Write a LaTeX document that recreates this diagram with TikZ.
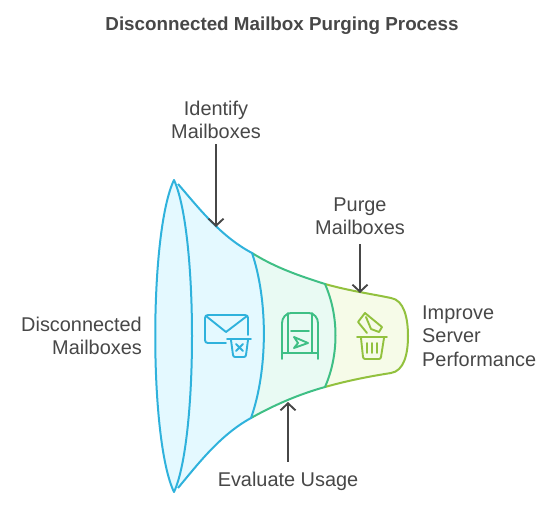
\documentclass[tikz,border=0pt]{standalone}
\usepackage{fontspec}
\setmainfont{Liberation Sans}
\definecolor{cblue}{HTML}{2FB2DC}
\definecolor{cgreen}{HTML}{3FBF85}
\definecolor{colive}{HTML}{92C13E}
\definecolor{fblue}{HTML}{E4F9FF}
\definecolor{fgreen}{HTML}{E9FAF3}
\definecolor{folive}{HTML}{F6FBE8}
\definecolor{ink}{HTML}{474747}
\tikzset{
  seg/.style={line width=2pt,line join=round},
  icon/.style={line width=1.9pt,line join=round,line cap=round},
  lbl/.style={font=\fontsize{19.9}{23.5}\selectfont,text=ink,inner sep=0pt},
  pointer/.style={line width=1.9pt,draw=ink,-{Straight Barb[length=7pt,width=15pt,line width=1.9pt]}}
}
\usetikzlibrary{arrows.meta}
\begin{document}
\begin{tikzpicture}[x=1pt,y=-1pt]
\useasboundingbox (0,0) rectangle (552,506);
% fills
\fill[folive] (325,284) .. controls (350,291) and (372,294) .. (391,298)
  .. controls (404,300) and (408,318) .. (408,336)
  .. controls (408,354) and (404,371) .. (391,373)
  .. controls (372,376) and (350,380) .. (325,387)
  .. controls (339,355) and (339,316) .. (325,284) -- cycle;
\fill[fgreen] (252,253) .. controls (276,268) and (300,276) .. (325,284)
  .. controls (339,316) and (339,355) .. (325,387)
  .. controls (300,394) and (276,404) .. (251,418)
  .. controls (268,370) and (268,300) .. (252,253) -- cycle;
\fill[fblue] (174,180) .. controls (195,205) and (220,236) .. (252,253)
  .. controls (268,300) and (268,370) .. (251,418)
  .. controls (220,435) and (195,467) .. (174,492)
  .. controls (149,440) and (149,232) .. (174,180) -- cycle;
% outlines
\draw[seg,colive] (325,284) .. controls (350,291) and (372,294) .. (391,298)
  .. controls (404,300) and (408,318) .. (408,336)
  .. controls (408,354) and (404,371) .. (391,373)
  .. controls (372,376) and (350,380) .. (325,387);
\draw[seg,cgreen] (252,253) .. controls (276,268) and (300,276) .. (325,284)
  .. controls (339,316) and (339,355) .. (325,387)
  .. controls (300,394) and (276,404) .. (251,418);
\draw[seg,cblue] (178,184) .. controls (198,207) and (220,236) .. (252,253)
  .. controls (268,300) and (268,370) .. (251,418)
  .. controls (220,435) and (198,464) .. (178,488);
\draw[seg,cblue] (174,180) .. controls (149,232) and (149,440) .. (174,492)
  .. controls (198,440) and (198,232) .. (174,180) -- cycle;
% mail icon
\draw[icon,cblue] (226,343) -- (208,343) .. controls (206,343) and (205,342) .. (205,340)
  -- (205,318) .. controls (205,316) and (206,315) .. (208,315) -- (245,315)
  .. controls (247,315) and (248,316) .. (248,318) -- (248,335);
\draw[icon,cblue] (206,316) -- (226,332) -- (247,316);
\draw[icon,cblue] (227,339) -- (251,339);
\draw[icon,cblue] (231,340) -- (233,355) .. controls (233,356) and (234,357) .. (235,357)
  -- (244,357) .. controls (245,357) and (246,356) .. (246,355) -- (248,340);
\draw[icon,cblue] (236,344) -- (243,351) (243,344) -- (236,351);
% mailbox icon
\draw[icon,cgreen] (282,359) -- (282,323) .. controls (282,318) and (286,313) .. (291,313)
  -- (309,313) .. controls (314,313) and (318,318) .. (318,323) -- (318,359);
\draw[icon,cgreen] (288,313) -- (288,353) (312,313) -- (312,353);
\draw[icon,cgreen] (282,353) -- (318,353);
\draw[icon,cgreen] (291,331) -- (309,331);
\draw[icon,cgreen] (294,337) -- (308,343) -- (294,348) -- (298,343) -- cycle;
% trash icon
\draw[icon,colive] (357,337) -- (387,337);
\draw[icon,colive] (361,338) -- (363,357) .. controls (363,358) and (364,359) .. (365,359)
  -- (379,359) .. controls (380,359) and (381,358) .. (381,357) -- (384,338);
\draw[icon,colive] (367,343) -- (367,353) (372,343) -- (372,353) (377,343) -- (377,353);
\draw[icon,colive] (367,333) -- (358,322) -- (365,313) -- (382,327) -- (379,332) -- (371,329) -- (366,317);
% texts
\node[font=\bfseries\fontsize{18.8}{22}\selectfont,text=ink,inner sep=0pt] (title) at (282,25.5) {Disconnected Mailbox Purging Process};
\node[lbl,align=center] (identify) at (216,120) {Identify\\Mailboxes};
\node[lbl,align=center] (purge) at (360,216.5) {Purge\\Mailboxes};
\node[lbl,align=right,anchor=east] (disc) at (142,336) {Disconnected\\Mailboxes};
\node[lbl,align=left,anchor=west] (improve) at (422,336) {Improve\\Server\\Performance};
\node[lbl] (evaluate) at (288,481) {Evaluate Usage};
% targets on the funnel
\coordinate (tidentify) at (216,227);
\coordinate (tpurge) at (360,293);
\coordinate (tevaluate) at (288,402);
\draw[pointer] (identify.south -| tidentify) ++(0,5) -- (tidentify);
\draw[pointer] (purge.south -| tpurge) ++(0,9) -- (tpurge);
\draw[pointer] (evaluate.north -| tevaluate) ++(0,-10) -- (tevaluate);
\end{tikzpicture}
\end{document}
